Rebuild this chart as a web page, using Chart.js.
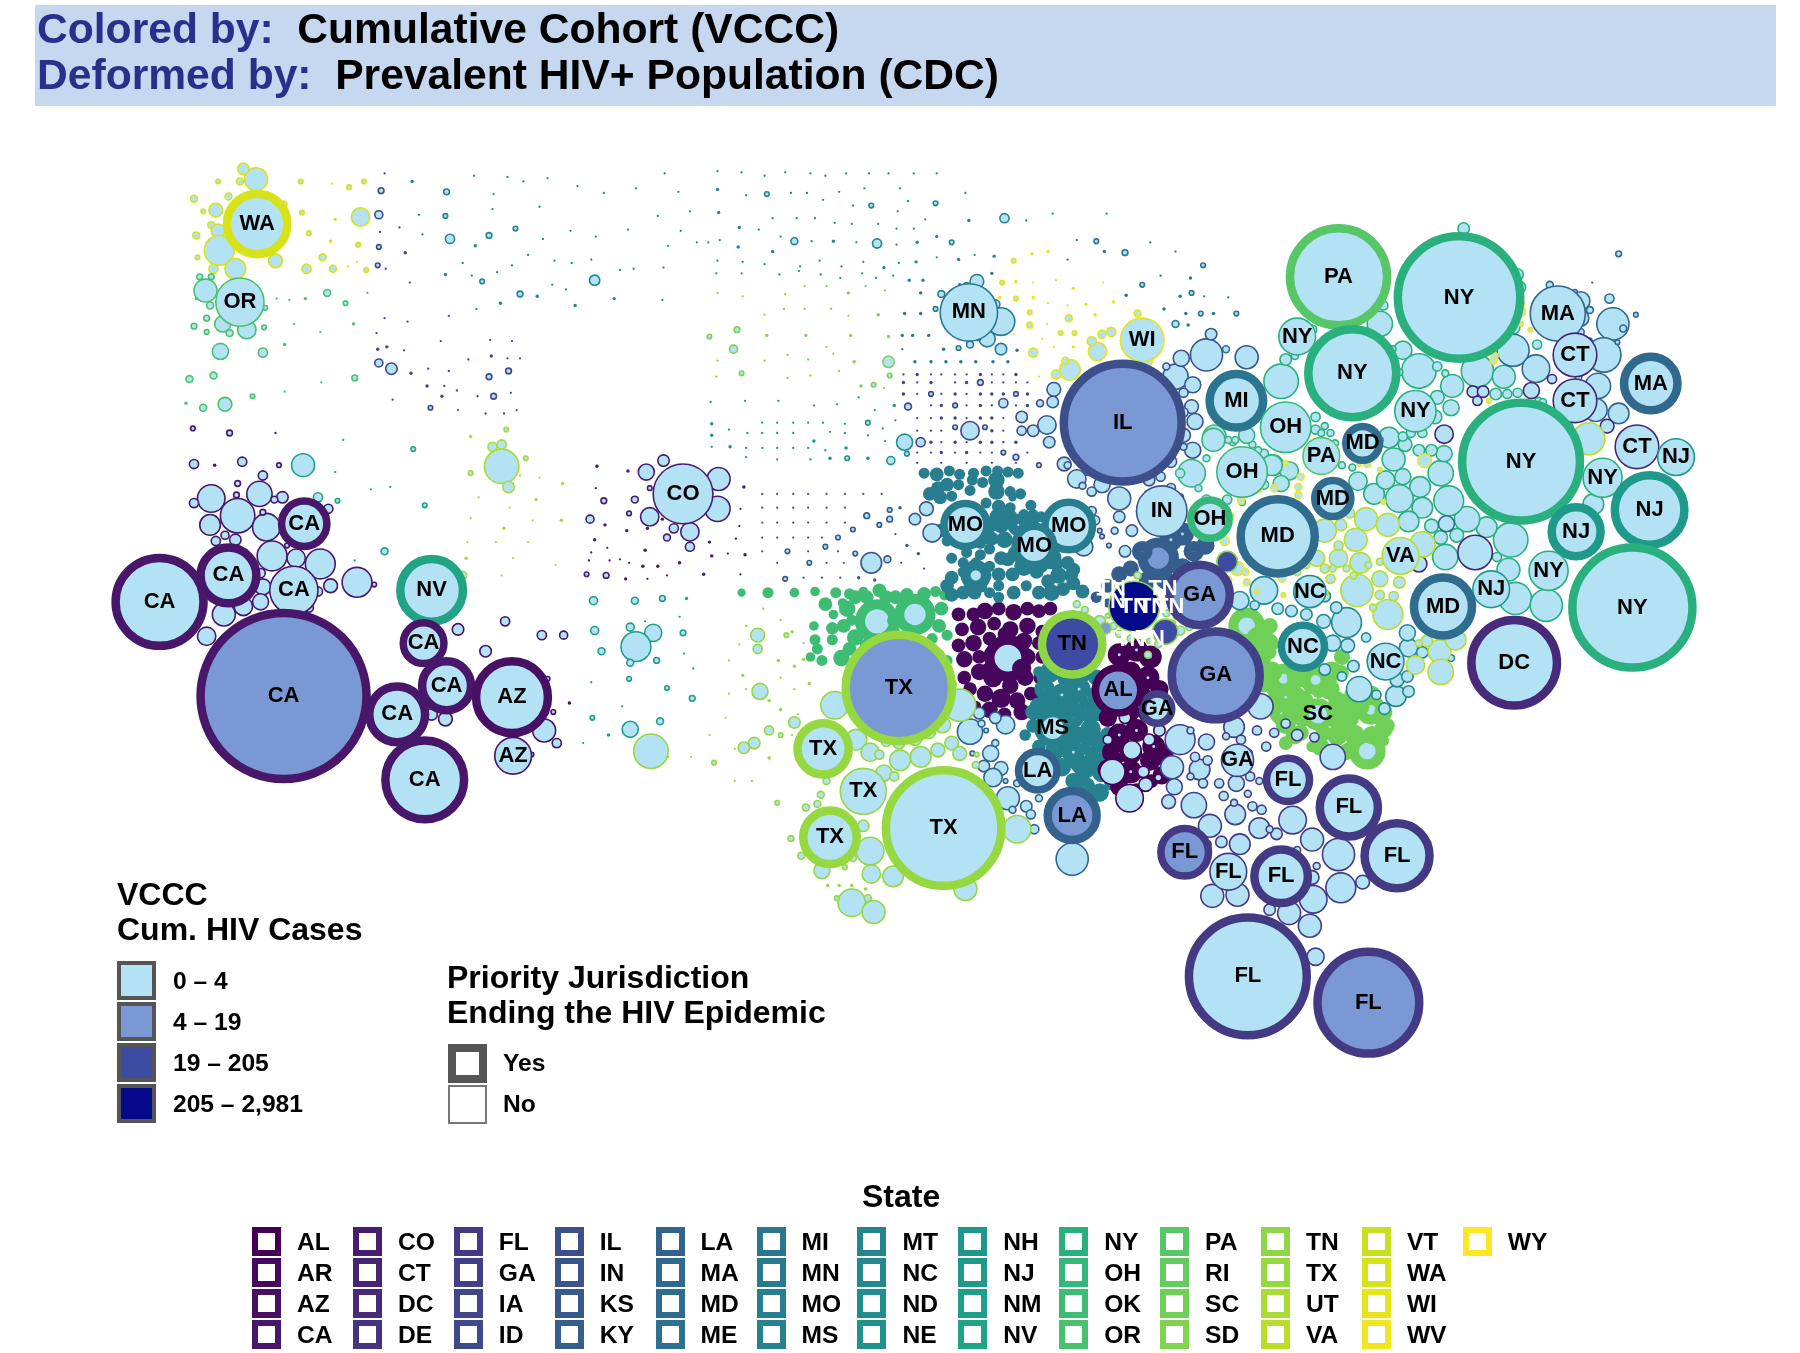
<!DOCTYPE html>
<html>
<head>
<meta charset="utf-8">
<title>Cumulative Cohort cartogram</title>
<script src="https://cdn.jsdelivr.net/npm/chart.js@4"></script>
<style>
  html, body { margin: 0; padding: 0; background: #fff; }
  body { width: 1800px; height: 1353px; position: relative; overflow: hidden; font-family: "Liberation Sans", Arial, sans-serif; font-weight: bold; color: #000; }
  canvas { position: absolute; left: 0; top: 0; }
  .abs { position: absolute; white-space: pre; }
  #banner { left: 35px; top: 5px; width: 1741px; height: 101px; background: #c5d8ef; }
  .line { position: absolute; left: 2px; font-size: 42.6px; line-height: 46px; white-space: pre; }
  .blue { color: #27318b; }
  .heading { font-size: 32px; line-height: 34px; }
  .swatch { position: absolute; box-sizing: border-box; }
  .item { font-size: 24.6px; line-height: 28px; }
</style>
</head>
<body>
<canvas id="map" width="1800" height="1353"></canvas>
<div id="banner" class="abs">
  <div class="line" style="top:0px"><span class="blue">Colored by:</span>  Cumulative Cohort (VCCC)</div>
  <div class="line" style="top:46px"><span class="blue">Deformed by:</span>  Prevalent HIV+ Population (CDC)</div>
</div>
<div id="legends"></div>
<script>
// legend content
const stateNames = ['AL','AR','AZ','CA','CO','CT','DC','DE','FL','GA','IA','ID','IL','IN','KS','KY','LA','MA','MD','ME','MI','MN','MO','MS','MT','NC','ND','NE','NH','NJ','NM','NV','NY','OH','OK','OR','PA','RI','SC','SD','TN','TX','UT','VA','VT','WA','WI','WV','WY'];
const stateColors = ['#440154','#46085c','#471063','#481769','#481d6f','#472575','#472a7a','#463480','#443a83','#424086','#404688','#3e4a89','#3c4f8a','#3a548c','#38598c','#355e8d','#33638d','#31688e','#2f6c8e','#2d718e','#2b758e','#2a7a8e','#287d8e','#26828e','#25858e','#23898e','#228d8d','#20928c','#1f968b','#1f9a8a','#1f9e89','#21a386','#2ab07f','#35b779','#3fbc73','#4ac16d','#56c667','#63cb5f','#70cf57','#7fd34e','#8ed645','#95d840','#a8db34','#b8de29','#c8e020','#d8e219','#e7e419','#f1e51d','#fde725'];
const tierLabels = ['0 – 4','4 – 19','19 – 205','205 – 2,981'];
const tierFills = ['#b3e2f5','#7a98d4','#3d4ba3','#050a8a'];

// labelled counties: state, x, y, radius, cases tier, priority jurisdiction
const labelled = [
 ['WA',224,195,30,0,1],['OR',209,263,21,0,0],['CA',265,456,23,0,1],['CA',199,501,28,0,1],['CA',139,524,42,0,1],['CA',256,514,21,0,0],
 ['CA',247,606,76,1,1],['NV',376,514,31,0,1],['CA',369,560,21,0,1],['CA',389,597,25,0,1],['CA',346,622,28,0,1],['CA',370,679,38,0,1],
 ['AZ',446,607,35,0,1],['AZ',447,658,16,0,0],['CO',595,430,26,0,0],['MN',844,272,25,0,0],['WI',995,296,19,0,0],['IL',978,368,55,1,1],
 ['MI',1077,349,27,0,1],['OH',1120,372,22,0,0],['OH',1082,411,22,0,0],['OH',1054,452,20,0,1],['IN',1012,445,22,0,0],['MO',841,457,22,0,1],
 ['MO',931,458,24,0,1],['MO',901,475,20,0,1],['TN',934,561,30,2,1],['GA',1045,518,30,1,1],['GA',1059,588,42,1,1],['GA',1008,617,16,0,1],
 ['GA',1078,662,14,0,0],['AL',974,601,23,1,1],['TX',783,599,50,1,1],['TX',717,652,26,0,1],['TX',752,689,20,0,0],['TX',723,729,27,0,1],
 ['TX',822,721,54,0,1],['MS',917,634,16,0,1],['LA',904,671,20,0,1],['LA',934,710,25,1,1],['FL',1122,679,22,0,1],['FL',1175,703,29,0,1],
 ['FL',1217,745,32,0,1],['FL',1032,742,24,1,1],['FL',1070,759,16,0,0],['FL',1116,763,27,0,1],['FL',1087,850,55,0,1],['FL',1192,873,48,1,1],
 ['PA',1166,241,46,0,1],['NY',1271,259,57,0,1],['NY',1130,293,16,0,0],['NY',1178,325,42,0,1],['MA',1357,273,24,0,0],['CT',1372,309,19,0,0],
 ['CT',1372,349,19,0,0],['MA',1438,334,27,0,1],['NY',1233,358,18,0,0],['NY',1325,402,55,0,1],['CT',1426,389,19,0,0],['NJ',1460,398,16,0,0],
 ['NY',1396,416,17,0,0],['NJ',1437,444,34,0,1],['NJ',1373,463,25,0,1],['NY',1349,497,17,0,0],['NY',1422,529,56,0,1],['NJ',1299,513,16,0,0],
 ['MD',1257,528,29,0,1],['DC',1319,577,41,0,1],['MD',1187,386,18,0,1],['MD',1161,434,19,0,1],['MD',1113,467,36,0,1],['PA',1151,397,16,0,0],
 ['VA',1220,484,16,0,0],['NC',1141,515,14,0,0],['NC',1135,563,22,0,1],['NC',1207,576,16,0,0],['SC',1148,622,14,0,1],['TN',988,528,22,3,0]
];
// the white labels round the Nashville bubble
const whiteLabels = [['TN',968,513],['TN',1013,513],['TN',968,524],['TN',988,528],['TN',1004,528],['TN',1019,528],['TN',1002,556],['TN',985,557]];

// unlabelled counties per state: x, y, radius
const waPts = [[223,156,10],[212,147,5],[209,158,3],[190,158,2],[169,173,3],[199,171,3],[188,183,6],[177,184,2],[184,196,3],[190,201,6],[171,205,3],[191,218,13],[172,224,2],[205,234,9],[186,234,4],[240,227,6],[247,178,3],[262,158,2],[289,160,1],[304,163,2],[317,158,2],[263,185,2],[292,191,1.5],[314,189,8],[269,203,2],[288,210,1.5],[312,213,2],[281,224,3],[267,234,4],[290,234,3],[303,232,1],[311,228,1],[319,235,2]];
const orPts = [[179,253,10],[174,241,2.5],[184,241,2.5],[183,266,3],[171,260,1.5],[180,277,2.5],[194,282,7],[169,284,2.5],[180,289,2],[200,290,3],[215,287,8],[230,285,2],[231,268,2],[228,257,1.5],[192,306,7],[229,307,4],[248,300,1.5],[285,255,3],[266,260,1.5],[301,264,2],[241,260,1],[252,261,1],[308,282,1.5],[256,282,1],[279,289,1],[320,255,1],[165,330,3],[186,327,3],[196,352,6],[177,355,3],[162,351,1.5],[220,345,2],[248,341,1],[280,333,1],[309,329,2.5]];
const caPts = [[184,434,12],[207,449,15],[226,430,11],[183,457,9],[232,459,12],[237,484,13],[258,486,8],[279,491,13],[311,507,13],[288,510,6],[229,511,7],[227,499,4],[212,528,8],[227,524,7],[195,535,10],[180,554,8],[169,404,4],[211,402,4],[229,414,4],[187,405,1.5],[243,405,2],[207,421,2.5],[206,431,2.5],[169,438,4],[246,433,5],[286,443,4],[188,471,4],[205,470,5],[196,466,3.5],[229,446,2.5],[239,435,3],[250,475,2],[277,515,4],[269,529,4],[326,509,2],[168,373,2],[200,377,2.5],[240,377,1]];
const nvPts = [[264,405,10],[277,433,4],[294,436,2],[285,453,2],[285,458,2],[292,411,1],[299,383,1],[360,391,2],[323,426,1],[340,424,1],[370,440,2],[335,480,3],[309,488,1]];
const utPts = [[437,406,15],[429,389,4],[437,387,4],[443,424,5],[403,501,3.5],[410,380,1.5],[441,374,2],[458,399,2],[410,412,2],[453,414,1],[470,416,1],[490,421,1.5],[417,433,1],[467,435,1.5],[444,442,1],[464,453,1],[489,453,1.5],[439,460,1.5],[410,451,1],[432,472,1],[460,472,1],[447,486,1],[406,486,1.5],[484,492,1],[437,501,1],[407,472,1]];
const azPts = [[474,636,10],[485,647,4],[482,620,2],[440,541,4],[472,553,4],[491,553,3.5],[423,567,5],[399,548,5],[376,622,5],[388,626,6],[496,612,1.5],[463,657,2],[477,591,2]];
const idPts = [[335,151,1],[332,166,2.5],[330,187,3.5],[348,198,1],[331,202,1],[330,215,2],[353,220,1.5],[329,231,2],[336,234,1],[357,246,1],[335,277,1],[355,280,1],[391,275,1],[328,290,1],[384,297,1],[427,296,1],[446,297,1],[329,304,1.5],[337,302,1.5],[352,305,1],[408,313,1],[428,310,1.5],[442,312,1],[453,312,1],[330,316,3.5],[341,321,5],[358,325,1.5],[373,321,1],[391,323,1],[426,328,2.5],[443,323,2.5],[372,336,1.5],[387,336,1],[398,340,1],[385,345,1.5],[416,345,1],[430,345,2.5],[445,342,1],[342,348,1],[375,355,2],[399,357,1],[423,360,1],[439,360,1],[450,357,1]];
const mtPts = [[359,158,1.5],[389,167,2.5],[388,188,2],[392,208,4],[414,214,1.5],[413,153,1],[442,154,1],[456,158,1],[477,155,1],[430,169,1],[429,182,1],[470,180,1],[449,199,2],[426,205,2.5],[365,187,1],[368,204,1],[403,229,1],[388,239,1.5],[411,240,1],[420,245,2],[433,237,1],[446,231,1],[460,222,1],[453,256,2.5],[468,258,1.5],[436,264,1.5],[415,269,1],[481,248,1],[493,252,1],[501,266,1.5],[483,227,1],[498,229,1],[515,226,1],[518,244,4.5],[535,260,1.5],[552,234,1],[540,235,1],[578,233,1],[577,261,1],[497,201,1],[519,206,1],[473,208,1],[547,200,1],[593,201,1],[582,214,1],[503,162,1],[526,168,1],[554,164,1],[573,188,1],[591,167,1],[601,184,1],[579,151,1],[625,149,1],[646,150,1],[666,153,1],[684,150,1],[706,151,1],[719,153,1],[737,151,1],[757,151,1],[774,151,1],[796,151,1],[816,151,1],[625,165,1.5],[650,170,1],[668,169,2],[689,168,1],[703,168,1],[717,174,1],[731,167,1],[753,164,1],[784,164,1],[743,179,1],[759,179,2],[782,184,1],[791,175,1],[815,177,2],[841,168,1],[844,192,1.5],[875,190,4],[894,192,1],[917,186,1],[964,186,1],[626,185,1.5],[644,198,1.5],[673,190,1],[694,190,1],[710,190,1],[727,194,1],[742,195,1],[765,195,1],[781,199,1],[806,191,1],[796,199,1],[661,200,1],[680,206,1],[692,210,3],[707,210,1],[726,210,1.5],[746,211,1],[764,212,4],[781,213,1],[799,211,1.5],[816,206,1.5],[829,211,2],[673,219,1.5],[643,215,1.5],[627,209,1],[607,211,1],[617,211,1]];
const ndPts = [[625,227,1],[647,228,1],[666,230,1],[697,232,1],[714,227,1],[733,232,1],[752,228,1],[770,233,1.5],[783,229,1],[798,228,1.5],[816,224,1],[835,226,1.5],[849,222,1],[866,223,1.5],[624,238,1],[646,238,1],[679,239,1],[696,236,1],[715,239,1],[732,242,1],[751,238,1],[763,242,1],[778,240,1],[792,244,1.5],[804,244,1.5]];
const sdPts = [[625,255,1],[647,258,1],[684,256,1],[701,249,1],[720,249,1],[739,255,1.5],[754,249,1],[771,253,1],[683,269,1],[666,274,1],[701,269,1],[724,269,1],[739,275,1],[765,274,1.5],[618,293,2],[642,287,2.5],[639,304,3.5],[625,314,1],[646,325,2],[624,328,1],[668,292,1.5],[702,292,1.5],[720,302,1],[741,292,1.5],[774,293,1.5],[666,314,1],[686,309,1],[704,313,1],[726,308,1],[744,315,1.5],[774,315,5],[775,327,2],[686,329,1],[706,327,1],[731,323,1],[750,336,1.5],[761,335,2],[770,338,1]];
const nePts = [[619,350,1],[649,349,1],[678,349,1],[709,353,1],[729,352,1],[748,346,1],[762,357,1],[779,353,1.5],[620,369,1.5],[635,374,1],[664,368,1],[677,368,1],[691,368,1],[704,368,1],[717,368,1],[736,369,1],[756,368,2],[769,373,1],[780,366,1],[620,379,1.5],[651,377,1],[664,377,1],[677,377,1],[691,377,1],[709,384,1.5],[723,376,1],[736,377,1],[756,379,1],[771,384,1],[788,385,7],[776,401,3.5],[790,395,2],[620,389,1],[636,389,1.5],[650,390,1],[664,390,1],[677,390,1],[691,390,1],[704,390,1],[719,392,1],[737,390,1.5],[756,399,1.5],[738,399,2],[723,399,1.5],[706,400,1],[677,400,1],[650,398,1]];
const mnPts = [[872,280,12],[851,245,6],[867,265,4],[860,295,7],[872,304,5],[845,300,3],[835,303,2],[820,256,3],[815,269,2],[864,238,1.5],[836,248,1.5],[842,248,2],[852,294,2.5],[886,305,1.5],[802,255,1.5],[788,273,1.5],[802,273,1.5],[786,292,1.5],[795,292,1.5],[809,292,1.5],[822,304,1.5],[786,304,1],[797,315,1.5],[811,315,1.5],[824,315,1.5],[837,315,1.5],[850,315,1.5],[865,315,1.5],[878,315,1.5]];
const iaPts = [[787,326,1],[799,326,1.5],[811,326,1],[820,326,1],[832,326,1],[842,326,1],[854,326,1.5],[864,326,1],[874,326,1],[885,326,1.5],[787,333,1.5],[799,333,1],[811,333,1.5],[832,333,1],[842,333,1.5],[854,333,2.5],[864,333,1],[874,333,1],[885,333,1],[895,333,1],[787,343,1.5],[799,343,1],[811,343,2],[820,343,1],[832,343,1.5],[842,343,1],[854,343,1.5],[864,343,1.5],[874,343,1.5],[885,343,2],[895,343,1.5],[791,354,3],[811,353,1],[820,353,1.5],[832,353,2],[842,353,1],[854,353,1.5],[864,353,1],[874,351,4],[885,353,1],[895,353,1.5],[906,351,3],[799,364,1],[811,364,1],[820,364,1.5],[832,364,1.5],[842,364,1],[854,364,1.5],[864,364,1.5],[874,364,1],[890,363,5],[845,375,8],[832,372,2],[858,372,2],[799,375,1],[811,375,1],[820,375,1],[864,375,1.5],[874,375,1],[890,375,4],[900,375,5],[802,385,4],[811,385,1.5],[820,385,1],[832,385,1.5],[842,385,1],[854,385,1.5],[864,385,1.5],[874,385,1],[885,385,1.5],[799,394,1],[811,394,1],[820,394,1.5],[832,394,1],[842,394,1.5],[854,394,1],[864,394,1],[874,394,2],[885,398,2.5],[895,394,1],[799,403,1],[820,403,1],[842,403,1],[864,403,1],[885,403,1],[905,405,2]];
const coPts = [[626,417,10],[625,443,11],[563,411,7],[566,450,8],[578,401,5],[587,460,4],[581,468,3],[601,463,8],[601,476,4],[553,435,3],[526,436,2.5],[520,406,1.5],[547,410,1.5],[519,425,1],[514,452,3.5],[527,457,1.5],[548,447,2],[546,462,1.5],[518,470,1.5],[515,481,1],[529,477,1],[513,488,1],[531,488,1],[540,487,1],[548,490,1],[560,493,1.5],[573,493,1.5],[592,490,1.5],[562,479,1.5],[564,460,1.5],[511,500,2],[528,501,2.5],[545,504,1.5],[564,504,1],[581,501,1],[566,425,2],[577,452,1.5],[648,424,1.5],[645,443,1],[644,458,1],[618,472,1.5],[641,469,1],[620,484,1.5],[634,482,1],[649,483,1.5],[613,500,1.5],[645,500,1]];
const ksPts = [[664,430,1],[677,430,1],[691,430,1],[704,430,1],[720,430,1],[736,430,1],[752,430,1],[768,430,1],[664,442,1],[677,442,1],[691,442,1],[704,442,1],[720,442,1],[736,442,1],[755,449,2.5],[775,444,2],[784,442,1.5],[664,455,1],[677,455,1],[691,455,1],[704,455,1],[720,455,1],[736,455,1],[766,457,2],[775,452,2.5],[664,468,1],[677,468,1],[691,468,1],[704,468,1],[716,468,1],[730,468,2],[743,461,2],[664,480,1],[686,480,2],[704,480,1],[719,476,2],[745,482,2],[730,480,1],[759,490,9],[773,487,3],[677,490,1],[705,490,2],[720,490,1],[735,490,1],[684,504,2],[700,503,1],[716,503,1],[732,503,1],[748,503,1.5],[762,505,1.5],[797,452,5],[812,464,8],[807,443,6],[780,465,1],[790,475,1.5],[785,490,1],[800,482,1.5],[805,495,1]];
const inPts = [[918,339,6],[917,350,5],[912,370,8],[914,385,5],[927,404,6],[938,417,8],[960,422,7],[975,434,10],[951,428,4],[943,423,3],[1024,328,11],[1039,335,7],[1029,312,7],[1051,309,14],[1055,291,5],[1086,311,10],[1038,354,6],[1041,367,7],[1031,379,6],[1039,392,7],[1020,402,5],[1001,418,5],[985,413,4],[1011,415,4],[1031,389,3],[1016,319,3],[1031,342,4],[1031,359,4],[951,445,4],[975,450,5],[986,462,5],[980,480,5],[971,462,3],[966,475,2],[960,467,2],[948,465,2],[958,462,2],[954,453,4],[944,476,8],[930,405,3],[948,410,4],[1000,430,3],[1020,425,4],[1028,433,3]];
const wiPts = [[956,306,8],[932,322,9],[920,326,4],[900,307,4],[928,314,3],[951,297,4],[960,291,3.5],[968,289,4],[991,273,3],[999,314,5],[897,283,2.5],[897,272,2],[883,227,2],[899,221,1.5],[913,219,1.5],[873,246,2],[885,245,1.5],[900,246,1],[920,244,1],[935,251,1.5],[961,246,1],[885,260,2],[900,259,1.5],[871,259,1.5],[913,264,1],[930,266,1],[946,265,1.5],[970,263,1.5],[931,277,3],[954,274,1.5],[912,282,1],[924,290,2],[936,290,2],[883,291,1],[908,295,1],[935,302,1.5],[918,302,1],[905,328,1]];
const miPts = [[938,209,1],[955,210,2],[962,219,1.5],[980,220,2.5],[1002,211,1],[1024,219,1],[930,226,1],[995,248,2],[981,257,1.5],[1011,240,1],[1037,242,1.5],[1048,231,2],[1028,258,1.5],[1038,255,2],[1049,258,1],[1070,259,1],[1014,269,1.5],[1033,273,1.5],[1046,273,2],[1057,273,1.5],[1077,273,2],[1024,282,3],[1008,284,1],[1035,283,1.5],[1068,304,3]];
const ohPts = [[1038,412,12],[1109,405,9],[1086,380,6],[1058,380,10],[1101,395,4],[1081,425,5],[1069,415,5],[1101,422,4],[1051,399,3],[1028,412,4],[1044,425,3],[1064,385,3],[1074,385,3],[1091,387,3],[1051,435,4],[1069,435,4],[1082,437,3],[1123,410,8],[1108,405,9],[1116,421,7],[1057,383,10],[1086,379,7],[1070,383,3],[1076,383,3],[1096,392,3]];
const nyPts = [[1202,282,11],[1116,332,15],[1205,266,4],[1222,305,8],[1236,323,15],[1265,336,10],[1287,323,14],[1310,328,10],[1275,199,5],[1322,239,5],[1324,250,5],[1339,300,4],[1252,346,6],[1264,355,7],[1250,363,6],[1303,343,5],[1313,343,4],[1322,342,4],[1318,285,6],[1120,313,5],[1128,310,3],[1143,287,4],[1213,304,3],[1219,324,3],[1216,331,2],[1252,319,4],[1259,325,3],[1245,349,3],[1388,439,9],[1367,371,3],[1340,349,3],[1344,350,3],[1314,496,10],[1320,521,14],[1347,527,14],[1316,470,15],[1295,459,9],[1278,452,11],[1259,485,11],[1269,466,6],[1304,485,4],[1255,468,6],[1247,458,6],[1262,436,13],[1255,412,11],[1258,395,7],[1239,442,9],[1237,424,9],[1219,434,12],[1227,454,9],[1197,430,9],[1183,419,8],[1214,400,10],[1210,381,9],[1207,418,8],[1222,415,7],[1224,387,6],[1236,392,5],[1247,392,5],[1239,377,4],[1229,377,4],[1222,380,4],[1202,383,3],[1193,392,3],[1169,405,3],[1178,407,3],[1146,363,4],[1154,371,3],[1146,374,4],[1159,377,3],[1151,377,3],[1163,386,3]];
const maPts = [[1377,262,8],[1405,282,14],[1377,277,7],[1397,309,15],[1392,336,11],[1390,357,10],[1410,360,9],[1318,305,14],[1338,321,12],[1377,289,3],[1385,270,3],[1414,286,3],[1402,260,4],[1372,254,2],[1350,248,3],[1425,274,2],[1410,221,2.5],[1387,246,1],[1384,297,3],[1375,328,3],[1409,298,2],[1260,456,7]];
const ctPts = [[1258,378,8],[1283,341,5],[1292,341,5],[1287,349,4],[1352,330,4],[1334,340,7],[1285,481,15],[1400,371,6],[1236,491,7]];
const ncPts = [[1173,542,13],[1154,519,5],[1164,529,5],[1161,560,7],[1153,541,6],[1184,600,11],[1216,606,9],[1227,602,5],[1206,617,5],[1217,592,6],[1227,564,8],[1226,551,7],[1174,562,6],[1179,580,5],[1199,605,4],[1226,589,5],[1239,568,5],[1264,573,3],[1101,514,12],[1080,523,8],[1113,530,5],[1125,532,5],[1138,535,5],[1093,527,4],[1154,583,5],[1169,589,4],[1197,570,4],[1190,555,4]];
const vaPts = [[1154,462,10],[1181,470,10],[1190,452,10],[1209,457,10],[1239,474,11],[1147,486,7],[1166,486,8],[1185,490,9],[1182,514,14],[1209,535,13],[1202,504,7],[1146,507,5],[1159,504,4],[1154,495,4],[1166,475,4],[1219,507,5],[1214,519,4],[1202,518,4],[1224,495,4],[1176,447,4],[1168,457,5],[1138,492,3],[1130,498,3],[1202,489,3],[1192,492,3],[1154,516,3],[1173,495,3],[1179,501,3],[1161,495,3],[1196,529,3],[1254,567,10],[1255,585,11],[1233,579,8],[1268,557,9],[1243,558,5],[1236,560,3],[1384,382,14]];
const wvPts = [[1324,271,5],[1325,264,3],[1320,276,2],[1325,282,2],[1333,287,2],[1312,290,2],[1302,310,3],[1301,314,3],[1297,349,2],[1241,401,6],[1120,403,2],[1133,415,3],[1131,424,3],[1131,431,3],[1110,425,3],[1096,426,3],[1081,436,3],[1073,449,2],[1067,471,4],[1078,495,6],[1086,507,3],[1085,498,3],[1117,504,3],[1118,518,2],[1202,409,2],[1191,404,3],[1184,404,2],[1205,437,2],[1070,505,3],[1095,515,2]];
const gaPts = [[1028,644,13],[1051,646,7],[1075,633,9],[1077,682,7],[1098,615,11],[1045,670,9],[1021,668,10],[1023,685,7],[1040,701,11],[1018,698,6],[1076,709,9],[1041,659,4],[1052,662,4],[1066,693,4],[1091,702,4],[1089,676,4],[1097,680,3],[1087,656,4],[1103,650,4],[1110,638,4],[1095,636,4],[1081,644,4],[1068,641,3],[1037,636,3],[1048,682,4],[1062,682,4],[1037,676,3],[1087,691,3],[1099,705,4],[1075,699,3],[1161,659,11],[1130,640,5],[1120,630,4],[1145,642,4]];
const flPts = [[1054,719,10],[1064,733,5],[1080,735,9],[1097,721,9],[1112,726,5],[1126,714,12],[1143,731,10],[1166,744,14],[1168,773,13],[1187,768,6],[1143,764,6],[1144,783,12],[1056,780,10],[1078,779,10],[1106,792,5],[1123,795,10],[1141,806,10],[1146,833,7.5],[1106,722,3],[1130,740,3],[1147,754,3],[1052,735,3]];
const laPts = [[845,637,11],[876,631,8],[863,656,7],[878,695,10],[857,667,5],[872,669,6],[865,677,8],[894,702,5],[901,722,4],[886,682,3],[853,621,5],[867,625,5],[855,630,3],[867,647,3],[847,656,2],[859,636,2],[905,695,3],[898,709,4],[876,680,2],[882,705,3],[934,748,14]];
const alLight = [[986,653,8],[969,672,11],[996,672,5],[984,695,12],[998,683,6],[1009,677,3],[1001,644,5],[980,625,5],[1010,636,5],[965,644,4]];
const txPts = [[727,614,12],[836,614,14],[692,629,5],[746,644,9],[758,655,8],[784,662,9],[802,659,9],[817,653,6],[829,647,6],[836,656,6],[821,631,7],[809,637,6],[797,643,6],[783,647,5],[772,646,4],[828,596,5],[886,722,12],[758,741,12],[759,761,8],[778,763,9],[716,758,7],[841,774,10],[742,786,12],[761,794,10],[756,782,3],[729,782,2],[766,657,4],[770,673,7],[779,676,4],[768,682,3],[758,693,3],[752,719,5],[743,747,3],[736,755,2],[698,745,3],[689,730,2.5],[712,700,3],[720,680,3],[702,703,3],[715,692,3],[677,699,2],[731,771,1.5],[721,771,1.5],[742,771,1.5],[754,774,1.5],[850,666,3],[851,657,2],[660,553,6],[660,565,4],[662,602,7],[670,636,4],[657,647,5],[648,651,5],[567,654,15],[582,659,1],[602,659,1],[644,561,1],[635,575,1],[647,588,1.5],[635,604,1],[650,600,1],[678,575,1.5],[692,580,1.5],[680,590,1],[670,610,1.5],[692,600,1],[705,595,1.5],[680,618,1.5],[695,622,1],[640,652,1],[680,640,2],[670,660,1.5],[690,640,1],[655,680,1],[622,664,2],[640,680,1],[632,625,1],[618,640,1],[700,574,1.5],[690,550,1.5],[680,540,1],[665,530,1],[650,545,1],[700,560,1],[685,553,2]];
const nmPts = [[517,523,3.5],[553,523,3],[577,521,2.5],[598,521,1.5],[518,549,3.5],[549,546,3.5],[569,551,7.5],[554,563,13],[524,567,3],[549,577,3],[572,575,2.5],[595,551,2.5],[592,537,1],[562,541,1],[596,569,1],[604,582,1],[515,594,1],[548,591,2],[581,599,2],[603,608,2.5],[542,615,1],[516,625,2],[575,628,3],[549,635,7],[530,640,1.5],[508,647,1]];
const tnSmall = [[956,544,3],[1036,546,3],[1028,549,4],[1021,543,3],[1009,561,3],[1001,558,2],[991,501,3],[938,526,3],[945,531,3],[958,541,5],[970,545,3],[975,552,3],[965,536,2],[1025,536,3],[1016,534,3],[985,556,3],[1000,570,3]];
const tnTier1 = [[963,547,5]];
const tnTier2 = [[1015,550,11],[1069,489,9]];

// rural priority counties, solid looking: x, y, outer radius
const okPts = [[646,516,3],[669,516,4],[692,516,3.5],[710,515,3.5],[728,516,4],[740,517,4],[752,515,3.5],[766,514,5],[719,526,5],[734,525,3.5],[726,535,3.5],[709,545,3.5],[725,547,4.5],[725,557,4],[710,557,4],[712,565,4],[706,572,3.5],[716,575,4],[733,573,6],[764,541,16],[797,535,15],[738,530,6],[745,520,5],[755,520,5],[772,520,5],[780,520,5],[790,518,5],[805,517,5],[815,515,4],[823,518,4],[820,530,5],[818,545,5],[812,556,4],[825,553,4],[780,540,6],[778,550,5],[745,555,6],[755,562,5],[765,558,4],[795,552,4],[790,560,4],[805,565,4],[740,565,5],[750,570,5],[818,570,4],[825,575,4],[735,545,5],[742,540,4]];
const arPts = [[835,535,5],[848,535,5],[858,532,6],[870,530,5],[883,533,6],[895,530,5],[905,532,5],[915,530,5],[838,548,5],[852,546,6],[866,543,5],[880,548,6],[895,545,6],[908,550,5],[835,562,5],[848,560,6],[862,556,5],[875,552,5],[892,558,6],[905,560,5],[840,574,6],[853,572,5],[864,570,6],[895,572,6],[908,572,5],[840,590,5],[853,585,6],[865,590,7],[880,597,6],[893,590,6],[906,590,5],[845,600,5],[858,604,6],[872,608,7],[886,610,6],[898,604,5],[862,618,6],[875,622,5],[890,620,6],[905,603,5],[915,585,5],[850,615,4],[878,573,17],[862,585,7],[890,582,7]];
const moPts = [[805,412,4],[816,413,5],[827,410,4],[836,413,4],[848,412,4],[859,410,4],[869,410,4],[878,411,4],[887,412,4],[868,418,6],[856,420,4],[847,418,4],[835,422,4],[825,422,5],[817,425,5],[810,430,5],[819,433,5],[829,432,4],[845,427,4],[868,428,6],[880,428,4],[889,430,4],[859,438,4],[870,441,5],[880,442,4],[882,433,3],[898,440,4],[892,448,4],[900,448,4],[907,450,4],[879,450,6],[869,450,6],[862,457,6],[872,457,6],[887,457,8],[898,457,6],[859,468,5],[864,469,5],[854,473,4],[839,471,4],[825,471,4],[819,462,5],[862,478,4],[872,486,5],[878,487,5],[854,483,4],[842,481,4],[829,486,4],[839,490,4],[850,490,4],[862,493,4],[915,486,8],[920,491,5],[907,493,5],[930,490,5],[935,496,5],[922,501,6],[933,501,5],[913,506,5],[903,498,5],[892,493,7],[882,500,5],[870,500,5],[859,501,4],[839,498,4],[829,503,5],[825,510,5],[839,516,5],[849,516,5],[850,501,11],[855,511,4],[870,510,4],[883,516,5],[894,510,4],[905,516,5],[916,516,6],[926,513,5],[935,508,5],[943,515,5],[829,518,5],[870,520,4],[845,510,4],[862,516,4],[875,470,6],[890,472,7],[905,478,7],[885,482,6]];
const msPts = [[915,585,9],[930,590,9],[945,585,8],[955,590,7],[910,600,9],[925,605,10],[940,600,10],[955,605,8],[905,615,8],[945,618,10],[960,620,7],[935,625,9],[950,635,9],[965,640,7],[930,640,8],[920,652,9],[935,655,10],[950,650,9],[965,655,8],[925,668,8],[945,668,10],[960,672,9],[945,685,9],[958,690,8],[968,682,6],[938,640,8],[900,632,6],[893,640,5],[925,620,7],[912,625,5],[900,620,7],[915,640,8],[905,650,6],[940,612,9],[955,620,8],[915,612,8],[930,615,8],[945,640,8],[958,645,8],[940,665,8],[952,662,8],[935,680,7],[950,695,7],[965,665,7],[910,590,7],[920,580,7],[905,585,5]];
const alPts = [[975,570,10],[990,566,10],[1002,572,10],[985,585,9],[1000,590,10],[1010,600,8],[995,605,8],[1000,620,9],[985,620,8],[965,625,8],[975,640,10],[990,636,10],[1005,650,10],[985,655,10],[970,655,10],[965,670,9],[985,672,10],[1002,662,9],[1015,660,8],[1012,675,8],[975,685,8],[990,688,6],[1020,650,6],[1022,640,5],[1020,665,6],[1030,650,4],[1000,610,7],[1012,618,5],[975,655,9],[1003,680,6],[985,610,7]];
const kyPts = [[1009,486,18],[1000,505,8],[975,500,7],[985,495,7],[965,510,6],[955,520,5],[1030,495,9],[1040,480,9],[1030,465,10],[1050,475,8],[1020,470,10],[995,480,9],[1015,505,8],[1035,510,8],[1000,515,5],[965,525,4],[1040,500,8]];
const scPts = [[1086,545,16],[1106,545,7],[1169,572,7],[1118,591,13],[1146,592,13],[1168,586,7],[1168,614,10],[1194,618,13],[1191,654,16],[1171,635,8],[1116,621,10],[1153,638,7],[1133,638,7],[1100,580,7],[1090,565,8],[1106,568,6],[1130,605,7],[1149,602,6],[1111,605,6],[1120,647,6],[1143,650,5],[1160,655,7],[1175,652,6],[1205,635,8],[1125,620,8],[1105,595,7],[1095,555,9],[1105,560,9],[1098,575,9],[1108,585,9],[1100,595,8],[1125,580,7],[1130,590,9],[1120,607,10],[1135,610,9],[1135,625,8],[1110,615,8],[1120,630,9],[1128,640,8],[1160,585,9],[1158,600,9],[1165,610,8],[1180,605,9],[1185,615,8],[1175,625,9],[1195,605,8],[1205,620,8],[1208,632,7],[1160,625,8],[1165,640,9],[1150,650,8],[1180,640,9],[1172,655,7],[1195,640,8],[1205,645,5],[1110,600,7]];

// plotting space of the map, in its own units
const mapW = 1568, mapH = 1178;
const sizeK = 1800 / mapW;

function colorOf(state) {
    return stateColors[stateNames.indexOf(state)];
}

// thin outline county
function thinPoint(state, p, tier) {
    const c = colorOf(state);
    const small = p[2] <= 1.5;
    return { x: p[0], y: p[1], r: p[2] * sizeK, bg: small ? c : tierFills[tier], bc: c, bw: small ? 0 : 1.6 };
}

// ring is drawn inside the given outer radius
function ringPoint(state, p, tier, outer, bw) {
    const c = colorOf(state);
    if (outer <= bw) return { x: p[0], y: p[1], r: outer, bg: c, bc: c, bw: 0 };
    return { x: p[0], y: p[1], r: outer - bw / 2, bg: tierFills[tier], bc: c, bw: bw };
}

// priority county with a label
function thickPoint(state, p, tier) {
    const outer = p[2] * sizeK;
    return ringPoint(state, p, tier, outer, outer > 28 ? 8.5 : (outer > 18 ? 7.5 : 7));
}

function layer(points, order) {
    return {
        data: points,
        order: order,
        clip: false,
        backgroundColor: ctx => ctx.raw ? ctx.raw.bg : 'transparent',
        borderColor: ctx => ctx.raw ? ctx.raw.bc : 'transparent',
        borderWidth: ctx => ctx.raw ? ctx.raw.bw : 0
    };
}

const thinGroups = [['WA',waPts],['OR',orPts],['CA',caPts],['NV',nvPts],['UT',utPts],['AZ',azPts],['ID',idPts],['MT',mtPts],['ND',ndPts],['SD',sdPts],['NE',nePts],['MN',mnPts],['IA',iaPts],['CO',coPts],['KS',ksPts],['IN',inPts],['WI',wiPts],['MI',miPts],['OH',ohPts],['NY',nyPts],['MA',maPts],['CT',ctPts],['NC',ncPts],['VA',vaPts],['WV',wvPts],['GA',gaPts],['FL',flPts],['LA',laPts],['AL',alLight],['TX',txPts],['NM',nmPts],['TN',tnSmall]];
// rural blobs: state, counties, size factor
const thickGroups = [['OK',okPts,1.2],['AR',arPts,1.2],['MO',moPts,1.2],['MS',msPts,1],['AL',alPts,1],['KY',kyPts,1],['SC',scPts,1]];

const thickLayer = [];
thickGroups.forEach(g => g[1].forEach(p => {
    const tier = g[0] === 'KY' && p[2] === 18 ? 1 : 0;
    thickLayer.push(ringPoint(g[0], p, tier, p[2] * sizeK * g[2], 10));
}));
const thinLayer = [];
thinGroups.forEach(g => g[1].forEach(p => thinLayer.push(thinPoint(g[0], p, 0))));
tnTier1.forEach(p => thinLayer.push(thinPoint('TN', p, 1)));
tnTier2.forEach(p => thinLayer.push(thinPoint('TN', p, 2)));
const namedLayer = labelled.map(c => {
    const p = [c[1], c[2], c[3]];
    return c[5] ? thickPoint(c[0], p, c[4]) : thinPoint(c[0], p, c[4]);
});

const countyLabels = {
    id: 'countyLabels',
    afterDatasetsDraw(chart) {
        const ctx = chart.ctx, sx = chart.scales.x, sy = chart.scales.y;
        ctx.save();
        ctx.textAlign = 'center';
        ctx.textBaseline = 'middle';
        ctx.font = 'bold 22px "Liberation Sans", Arial, sans-serif';
        ctx.fillStyle = '#000';
        labelled.forEach(c => {
            if (c[4] === 3) return;
            ctx.fillText(c[0], sx.getPixelForValue(c[1]), sy.getPixelForValue(c[2]));
        });
        ctx.fillStyle = '#fff';
        whiteLabels.forEach(c => ctx.fillText(c[0], sx.getPixelForValue(c[1]), sy.getPixelForValue(c[2])));
        ctx.restore();
    }
};

new Chart(document.getElementById('map').getContext('2d'), {
    type: 'bubble',
    data: { datasets: [layer(namedLayer, 1), layer(thinLayer, 2), layer(thickLayer, 3)] },
    options: {
        responsive: false,
        animation: false,
        devicePixelRatio: 1,
        events: [],
        layout: { padding: 0, autoPadding: false },
        plugins: { legend: { display: false }, tooltip: { enabled: false } },
        scales: {
            x: { type: 'linear', min: 0, max: mapW, display: false },
            y: { type: 'linear', min: 0, max: mapH, reverse: true, display: false }
        }
    },
    plugins: [countyLabels]
});

// legends are plain html on top of the canvas
const legends = document.getElementById('legends');

function addText(txt, left, top, cls) {
    const d = document.createElement('div');
    d.className = 'abs ' + cls;
    d.style.left = left + 'px';
    d.style.top = top + 'px';
    d.textContent = txt;
    legends.appendChild(d);
    return d;
}

function addSwatch(left, top, size, border, borderColor, fill) {
    const d = document.createElement('div');
    d.className = 'swatch';
    d.style.cssText = `left:${left}px;top:${top}px;width:${size}px;height:${size}px;border:${border}px solid ${borderColor};background:${fill}`;
    legends.appendChild(d);
}

addText('VCCC', 117, 877, 'heading');
addText('Cum. HIV Cases', 117, 912, 'heading');
tierLabels.forEach((t, i) => {
    addSwatch(117, 961 + i * 41, 39, 4, '#555', tierFills[i]);
    addText(t, 173, 967 + i * 41, 'item');
});

addText('Priority Jurisdiction', 447, 960, 'heading');
addText('Ending the HIV Epidemic', 447, 995, 'heading');
addSwatch(448, 1044, 39, 8, '#555', '#fff');
addSwatch(448, 1085, 39, 2, '#777', '#fff');
addText('Yes', 503, 1049, 'item');
addText('No', 503, 1090, 'item');

addText('State', 862, 1179, 'heading');
const colStep = 100.9;
stateNames.forEach((s, i) => {
    const col = Math.floor(i / 4), row = i % 4;
    const left = 252 + col * colStep, top = 1227 + row * 31;
    addSwatch(left, top, 29, 6, stateColors[i], '#fff');
    addText(s, left + 45, top + 1, 'item');
});
</script>
</body>
</html>
